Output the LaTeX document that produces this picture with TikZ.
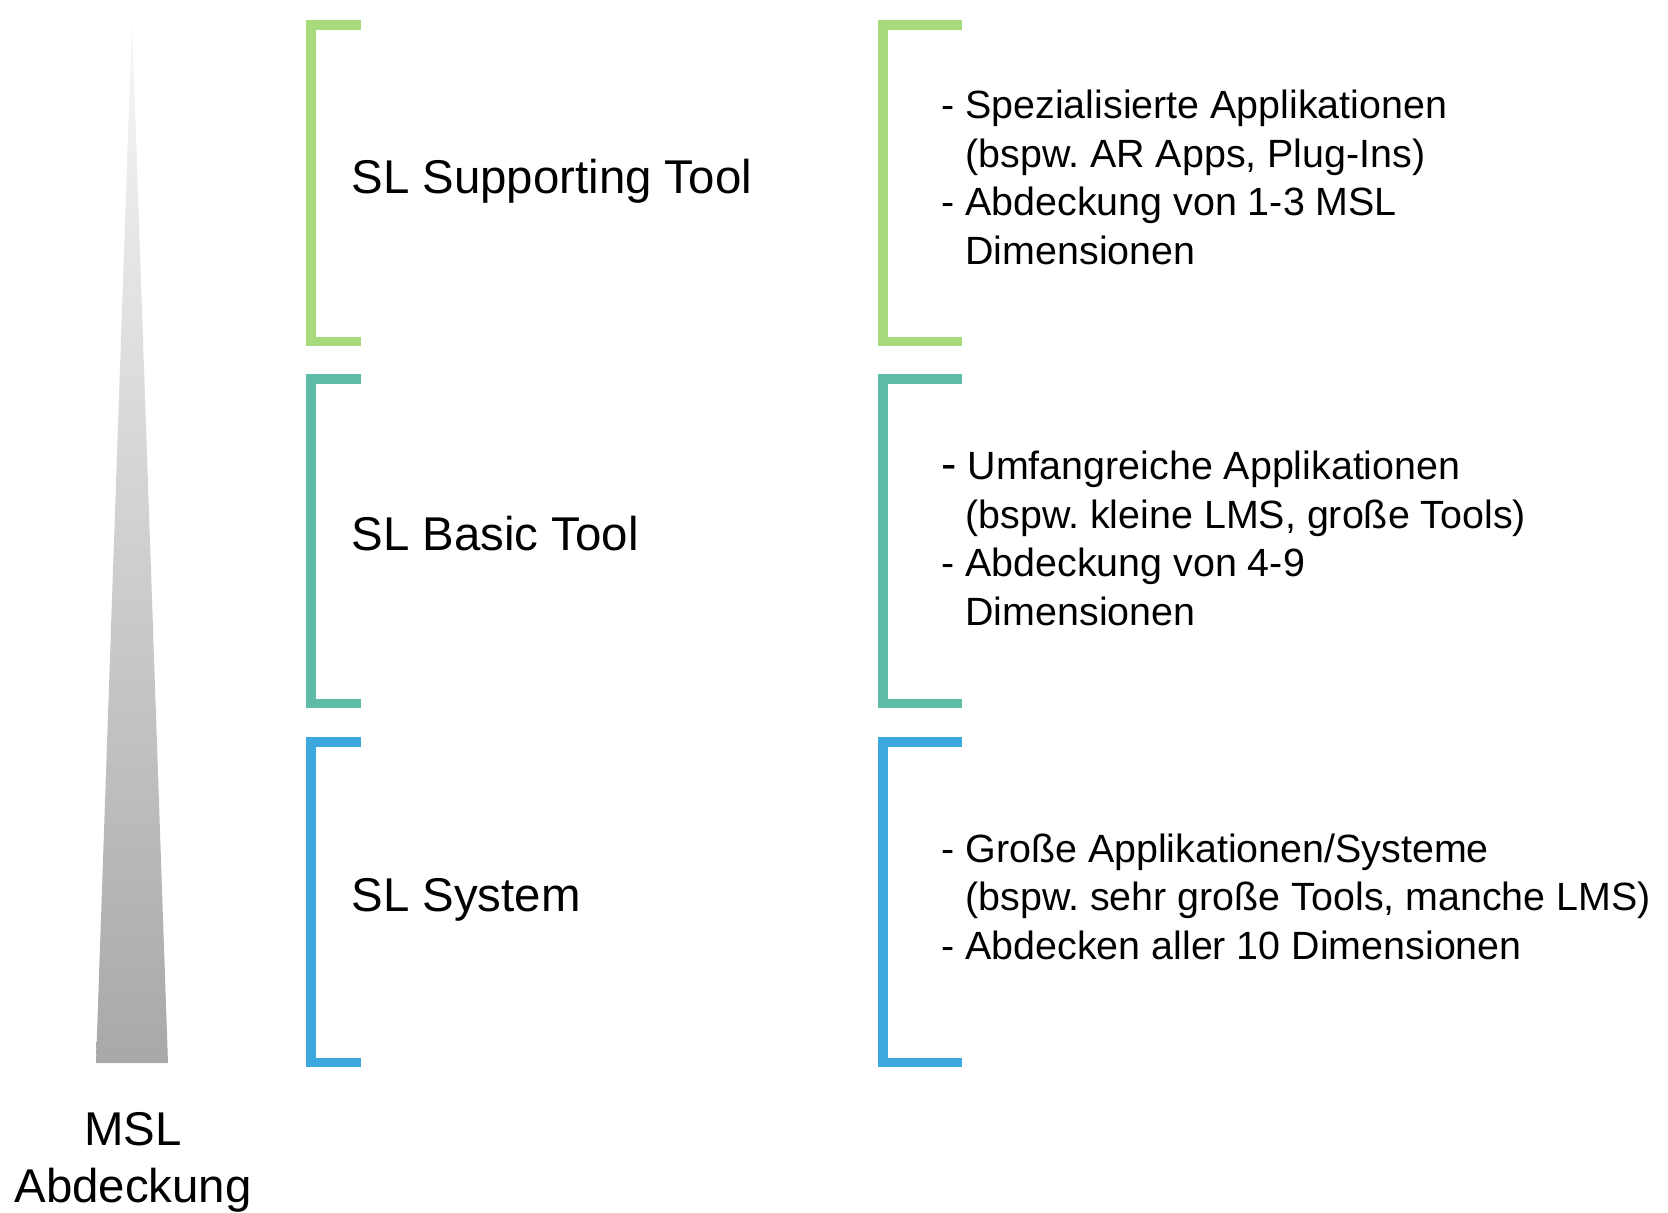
\documentclass[tikz,border=0pt]{standalone}
\usepackage{fontspec}
\setmainfont{Liberation Sans}
\usepackage{tikz}
\usetikzlibrary{positioning}
\frenchspacing
\definecolor{toolgreen}{HTML}{A6DA7A}
\definecolor{toolteal}{HTML}{5DBBA6}
\definecolor{toolblue}{HTML}{3DA8DE}
\tikzstyle{bracket} = [line width=4.75pt, line join=miter]
\tikzstyle{level} = [inner sep=0pt, anchor=base west, font=\fontsize{23.7}{28.5}\selectfont]
\tikzstyle{info} = [inner sep=0pt, anchor=base west, align=left, font=\fontsize{19.7}{24.25}\selectfont]
\tikzstyle{axislabel} = [inner sep=0pt, anchor=base, align=center, font=\fontsize{23.7}{28.5}\selectfont]

\begin{document}
\begin{tikzpicture}[x=0.5pt, y=-0.5pt, node distance=1cm]
        \useasboundingbox (0,0) rectangle (1668,1212);

        \coordinate (tip) at (132,20);
        \coordinate (baseL) at (96,1063);
        \coordinate (baseR) at (168,1063);
        \shade [top color=black!3, bottom color=black!34] (tip) -- (baseR) -- (baseL) -- cycle;
        \node (msl) [axislabel] at (133,1202) {MSL\\Abdeckung};

        \draw [bracket, toolgreen] (361,24.75) -| (311,341.25) -- (361,341.25);
        \draw [bracket, toolteal] (361,378.75) -| (311,703.25) -- (361,703.25);
        \draw [bracket, toolblue] (361,741.75) -| (311,1062.25) -- (361,1062.25);
        \draw [bracket, toolgreen] (962,24.75) -| (883,341.25) -- (962,341.25);
        \draw [bracket, toolteal] (962,378.75) -| (883,703.25) -- (962,703.25);
        \draw [bracket, toolblue] (962,741.75) -| (883,1062.25) -- (962,1062.25);

        \node (supporting) [level] at (351,193) {SL Supporting Tool};
        \node (basic) [level] at (351,550) {SL Basic Tool};
        \node (system) [level] at (351,911) {SL System};

        \node (supportingInfo) [info] at (941,264) {- Spezialisierte Applikationen\\\phantom{- }(bspw. AR Apps, Plug-Ins)\\- Abdeckung von 1-3 MSL\\\phantom{- }Dimensionen};
        \node (basicInfo) [info] at (941,625) {{\fontsize{23}{24.25}\selectfont -} Umfangreiche Applikationen\\\phantom{- }(bspw. kleine LMS, große Tools)\\- Abdeckung von 4-9\\\phantom{- }Dimensionen};
        \node (systemInfo) [info] at (941,959) {- Große Applikationen/Systeme\\\phantom{- }(bspw. sehr große Tools, manche LMS)\\- Abdecken aller 10 Dimensionen};
    \end{tikzpicture}
\end{document}
